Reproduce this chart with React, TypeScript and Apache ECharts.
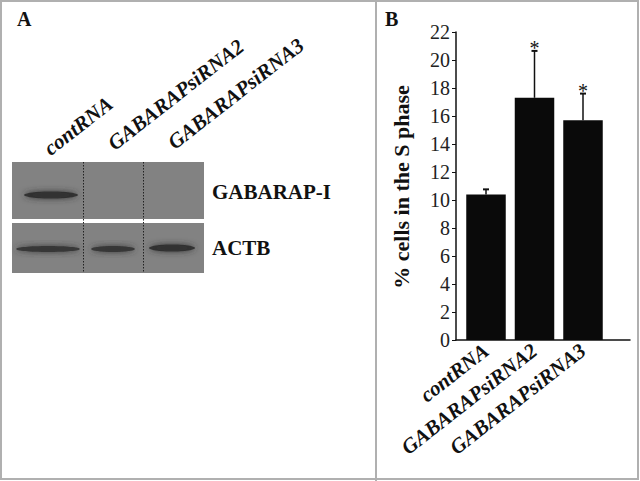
import React, { useEffect, useRef } from "react";
import * as echarts from "echarts";

const categories = ["contRNA", "GABARAPsiRNA2", "GABARAPsiRNA3"];
const sPhaseValues = [10.4, 17.3, 15.7];
const errorValues = [0.36, 3.35, 1.9];
const significance = ["", "*", "*"];
const yTicks = { min: 0, max: 22, interval: 2 };
const blotLanes = ["contRNA", "GABARAPsiRNA2", "GABARAPsiRNA3"];
const blotRows = ["GABARAP-I", "ACTB"];

const SERIF = '"Liberation Serif", "Times New Roman", serif';
const DEG = Math.PI / 180;

export default function App() {
  const ref = useRef<HTMLDivElement>(null);
  useEffect(() => {
    if (!ref.current) return;
    const chart = echarts.init(ref.current, null, { renderer: "svg" });

    const bandStyle = (fill: string) => ({
      fill,
      opacity: 0.9,
      shadowBlur: 6,
      shadowColor: fill,
    });

    const lanePos = [
      { x: 53, y: 159 },
      { x: 117, y: 154 },
      { x: 177, y: 153 },
    ];

    const graphic: any[] = [
      {
        type: "rect",
        shape: { x: 1, y: 1, width: 637, height: 478 },
        style: { fill: "none", stroke: "#b0b0b0", lineWidth: 2 },
      },
      {
        type: "line",
        shape: { x1: 376, y1: 0, x2: 376, y2: 481 },
        style: { stroke: "#b0b0b0", lineWidth: 2 },
      },
      {
        type: "text",
        x: 17,
        y: 9,
        style: { text: "A", font: `bold 20px ${SERIF}`, fill: "#111" },
      },
      {
        type: "text",
        x: 385,
        y: 9,
        style: { text: "B", font: `bold 20px ${SERIF}`, fill: "#111" },
      },
      // blot panels
      {
        type: "rect",
        shape: { x: 12, y: 162, width: 192, height: 57 },
        style: { fill: "#828282" },
      },
      {
        type: "rect",
        shape: { x: 12, y: 223, width: 192, height: 50 },
        style: { fill: "#828282" },
      },
      // bands
      {
        type: "ellipse",
        shape: { cx: 51, cy: 195, rx: 27, ry: 3.5 },
        style: bandStyle("#2e2e2e"),
      },
      {
        type: "ellipse",
        shape: { cx: 48, cy: 249, rx: 32, ry: 3 },
        style: bandStyle("#333333"),
      },
      {
        type: "ellipse",
        shape: { cx: 113, cy: 249, rx: 22, ry: 3 },
        style: bandStyle("#333333"),
      },
      {
        type: "ellipse",
        shape: { cx: 172, cy: 248, rx: 23, ry: 3.5 },
        style: bandStyle("#2e2e2e"),
      },
      {
        type: "line",
        shape: { x1: 83.5, y1: 162, x2: 83.5, y2: 273 },
        style: { stroke: "#222", lineWidth: 1, lineDash: [1.5, 1.5] },
      },
      {
        type: "line",
        shape: { x1: 143.5, y1: 162, x2: 143.5, y2: 273 },
        style: { stroke: "#222", lineWidth: 1, lineDash: [1.5, 1.5] },
      },
      {
        type: "text",
        x: 212,
        y: 192,
        style: {
          text: blotRows[0],
          font: `bold 21px ${SERIF}`,
          fill: "#111",
          textVerticalAlign: "middle",
        },
      },
      {
        type: "text",
        x: 212,
        y: 248,
        style: {
          text: blotRows[1],
          font: `bold 21px ${SERIF}`,
          fill: "#111",
          textVerticalAlign: "middle",
        },
      },
      {
        type: "text",
        x: 401,
        y: 187,
        rotation: 90 * DEG,
        style: {
          text: "% cells in the S phase",
          font: `bold 22px ${SERIF}`,
          fill: "#111",
          textAlign: "center",
          textVerticalAlign: "middle",
        },
      },
    ];

    blotLanes.forEach((name, i) => {
      graphic.push({
        type: "text",
        x: lanePos[i].x,
        y: lanePos[i].y,
        rotation: 38 * DEG,
        style: {
          text: name,
          font: `italic bold 21px ${SERIF}`,
          fill: "#111",
          textAlign: "left",
          textVerticalAlign: "bottom",
        },
      });
    });

    const errData = categories.map((c, i) => [
      i,
      sPhaseValues[i],
      errorValues[i],
      significance[i],
    ]);

    const option: any = {
      animation: false,
      graphic,
      grid: [
        { left: 456, top: 32, width: 174, height: 308 },
        { left: 461.75, top: 32, width: 145.5, height: 308 },
      ],
      xAxis: [
        {
          gridIndex: 0,
          type: "value",
          min: 0,
          max: 1,
          axisLine: { show: true, lineStyle: { color: "#111", width: 1.5 } },
          axisTick: { show: false },
          axisLabel: { show: false },
          splitLine: { show: false },
        },
        {
          gridIndex: 1,
          type: "category",
          data: categories,
          axisLine: { show: false },
          axisTick: { show: false },
          axisLabel: {
            rotate: 38,
            margin: 8,
            interval: 0,
            color: "#111",
            fontFamily: SERIF,
            fontWeight: "bold",
            fontStyle: "italic",
            fontSize: 21,
          },
        },
      ],
      yAxis: [
        {
          gridIndex: 0,
          type: "value",
          min: yTicks.min,
          max: yTicks.max,
          interval: yTicks.interval,
          axisLine: { show: true, lineStyle: { color: "#111", width: 1.5 } },
          axisTick: {
            show: true,
            length: 4,
            lineStyle: { color: "#111", width: 1 },
          },
          axisLabel: {
            color: "#222",
            fontFamily: SERIF,
            fontSize: 20,
            margin: 6,
          },
          splitLine: { show: false },
        },
        {
          gridIndex: 1,
          type: "value",
          min: yTicks.min,
          max: yTicks.max,
          interval: yTicks.interval,
          show: false,
        },
      ],
      series: [
        {
          type: "bar",
          xAxisIndex: 1,
          yAxisIndex: 1,
          data: sPhaseValues,
          barWidth: 39.5,
          itemStyle: { color: "#0a0a0a" },
        },
        {
          type: "custom",
          xAxisIndex: 1,
          yAxisIndex: 1,
          data: errData,
          encode: { x: 0, y: 1 },
          renderItem: (params: any, api: any) => {
            const x = api.value(0);
            const v = api.value(1);
            const e = api.value(2);
            const star = errData[params.dataIndex][3] as string;
            const p0 = api.coord([x, v]);
            const p1 = api.coord([x, v + e]);
            const children: any[] = [
              {
                type: "line",
                shape: { x1: p0[0], y1: p0[1], x2: p1[0], y2: p1[1] },
                style: { stroke: "#111", lineWidth: 1.5 },
              },
              {
                type: "line",
                shape: { x1: p1[0] - 3, y1: p1[1], x2: p1[0] + 3, y2: p1[1] },
                style: { stroke: "#111", lineWidth: 2 },
              },
            ];
            if (star) {
              children.push({
                type: "text",
                x: p1[0],
                y: p1[1] - 3,
                style: {
                  text: star,
                  font: `20px ${SERIF}`,
                  fill: "#111",
                  textAlign: "center",
                  textVerticalAlign: "middle",
                },
              });
            }
            return { type: "group", children };
          },
        },
      ],
    };

    chart.setOption(option);
    return () => chart.dispose();
  }, []);

  return (
    <div
      ref={ref}
      style={{
        position: "fixed",
        left: 0,
        top: 0,
        width: 640,
        height: 481,
        background: "#fff",
      }}
    />
  );
}
